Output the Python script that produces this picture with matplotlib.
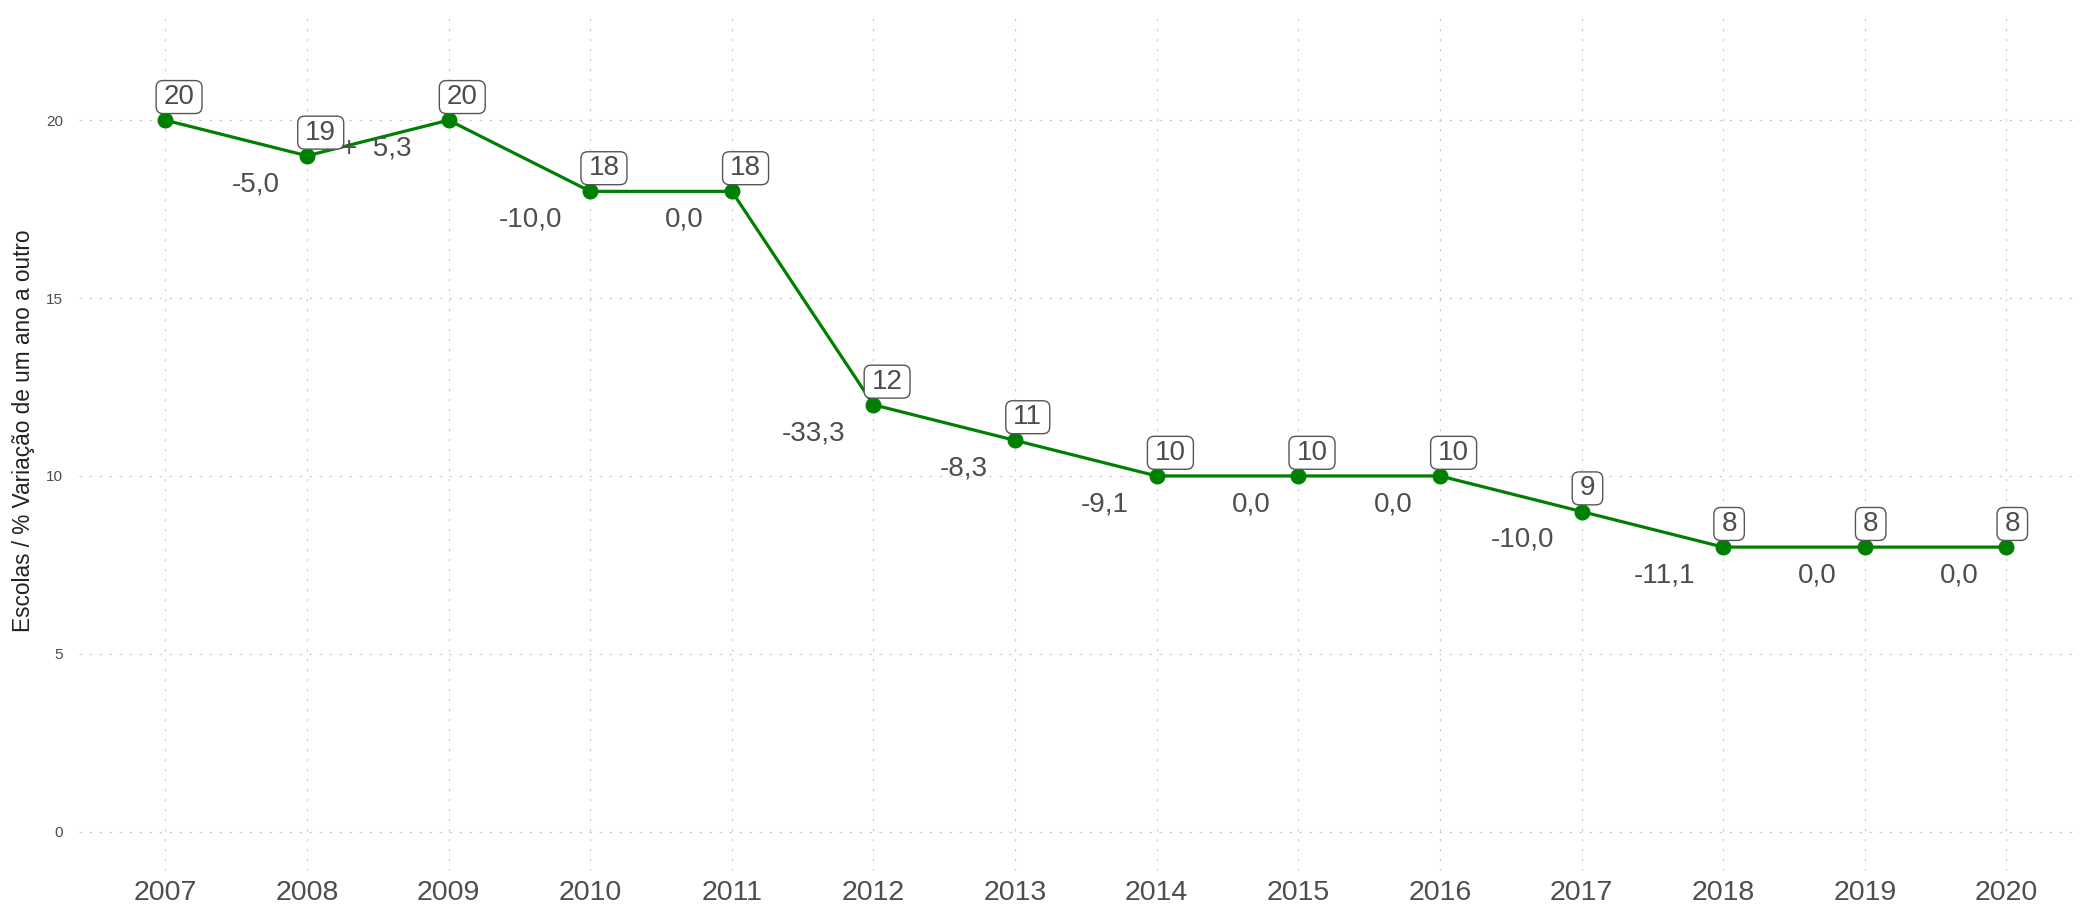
import matplotlib
matplotlib.use("Agg")
import matplotlib.pyplot as plt
from matplotlib.patches import BoxStyle

plt.rcParams['font.family'] = ['Liberation Sans', 'DejaVu Sans']

anos = [2007, 2008, 2009, 2010, 2011, 2012, 2013, 2014, 2015, 2016, 2017, 2018, 2019, 2020]
escolas = [20, 19, 20, 18, 18, 12, 11, 10, 10, 10, 9, 8, 8, 8]
variacao = [None, -5.0, 5.3, -10.0, 0.0, -33.3, -8.3, -9.1, 0.0, 0.0, -10.0, -11.1, 0.0, 0.0]
y_ticks = [0, 5, 10, 15, 20]

VERDE = '#008000'
TEXTO = '#4d4d4d'


def fmt_pct(v):
    s = f'{abs(v):.1f}'.replace('.', ',')
    if v > 0:
        return '+  ' + s
    if v < 0:
        return '-' + s
    return s


def caixa_label(x0, y0, width, height, mutation_size):
    # rounded box, wider padding left/right than top/bottom
    padx = 0.27 * mutation_size
    pady = 0.125 * mutation_size
    return BoxStyle.Round(pad=0.0, rounding_size=0.25)(
        x0 - padx, y0 - pady, width + 2 * padx, height + 2 * pady, mutation_size)


fig = plt.figure(figsize=(20.8, 9.09), dpi=100)
ax = fig.add_axes([0.038, 0.042, 0.962, 0.942])

ax.plot(anos, escolas, color=VERDE, lw=2.3, marker='o', ms=10.5, zorder=3)

for ano, n in zip(anos, escolas):
    ax.annotate(str(n), (ano, n), xytext=(-1.3, 7.3), textcoords='offset points',
                ha='left', va='bottom', fontsize=20, color=TEXTO, zorder=4,
                bbox=dict(boxstyle=caixa_label, fc='white', ec='#555555', lw=1.0))

for ano, n, v in zip(anos, escolas, variacao):
    if v is None:
        continue
    dx = -26.5 if v > 0 else -20
    ax.annotate(fmt_pct(v), (ano, n), xytext=(dx, -20.5), textcoords='offset points',
                ha='right', va='center', fontsize=20, color=TEXTO, zorder=4)

ax.set_xlim(2006.39, 2020.52)
ax.set_ylim(-1.1, 22.97)
ax.set_xticks(anos)
ax.set_xticklabels([str(a) for a in anos])
ax.set_yticks(y_ticks)

ax.grid(True, color='#cccccc', lw=0.8, linestyle=(0, (2.2, 6.8)))
ax.set_axisbelow(True)
for s in ax.spines.values():
    s.set_visible(False)
ax.tick_params(axis='both', length=0)
ax.tick_params(axis='x', labelsize=20.5, colors=TEXTO, pad=6.5)
ax.tick_params(axis='y', labelsize=11, colors=TEXTO, pad=11.5)

fig.text(24 / 2080, 1 - 431 / 909, 'Escolas / % Variação de um ano a outro',
         rotation=90, ha='center', va='center', fontsize=16.3, color='#222222')

fig.savefig('out.png', dpi=100)
